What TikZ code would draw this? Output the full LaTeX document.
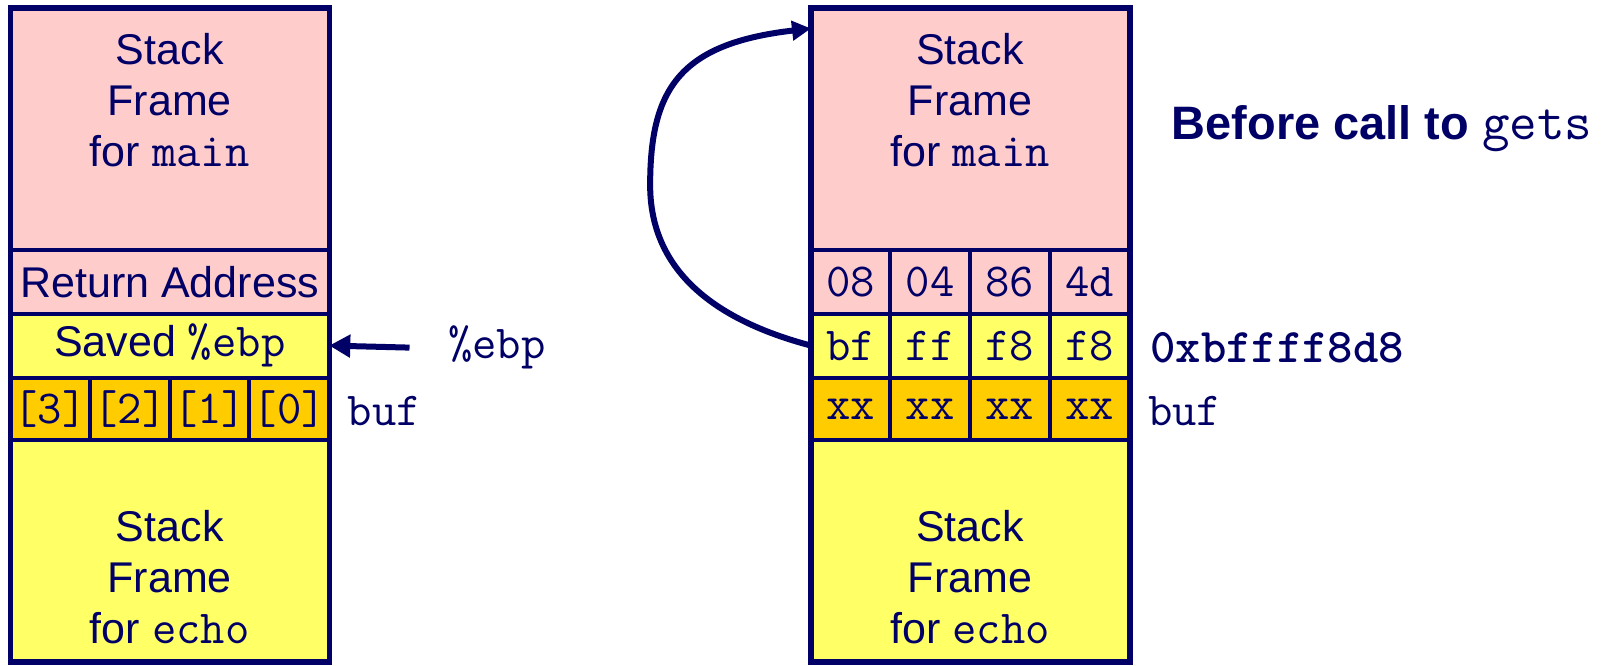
\documentclass[tikz,border=0pt]{standalone}
\usepackage{fontspec}
\setmainfont{Liberation Sans}
\usetikzlibrary{arrows.meta}
\definecolor{navy}{RGB}{0,0,102}
\definecolor{pinkc}{RGB}{255,204,204}
\definecolor{yellc}{RGB}{255,255,102}
\definecolor{orac}{RGB}{255,204,0}
\newcommand{\mono}{\ttfamily\fontsize{46}{49}\selectfont}
\begin{document}
\begin{tikzpicture}[x=1pt,y=1pt,scale=1.0287,transform shape,
  every node/.style={text=navy,font=\fontsize{41.8}{50}\selectfont},
  cellbox/.style={draw=navy,line width=4pt,inner sep=0pt,outer sep=0pt,anchor=south west},
  txt/.style={align=center,inner sep=0pt},
  monotxt/.style={font=\mono,inner sep=0pt},
  conn/.style={draw=navy,line width=6pt,-{Triangle[length=21pt,width=22pt]}}]
\useasboundingbox (0,0) rectangle (1568,647.4);
% ---- left stack ----
\node[cellbox,fill=pinkc,minimum width=310,minimum height=235] (lmain) at (10,404.4) {};
\node[cellbox,fill=pinkc,minimum width=310,minimum height=62] (lret) at (10,342.4) {Return Address};
\node[cellbox,fill=yellc,minimum width=310,minimum height=62] (lsav) at (10,280.4) {Saved {\mono\%ebp}};
\foreach \i/\t in {0/3,1/2,2/1,3/0}{
  \node[cellbox,fill=orac,minimum width=77.5,minimum height=61,font=\mono] (lb\i) at (10+77.5*\i,219.4) {[\t]};
}
\node[cellbox,fill=yellc,minimum width=310,minimum height=215.4] (lecho) at (10,4) {};
\draw[navy,line width=5.5pt] (lmain.north west) rectangle (lecho.south east);
\node[txt] (lmaintxt) at (165,550) {Stack\\Frame\\for {\mono main}};
\node[txt] (lechotxt) at (165,86.4) {Stack\\Frame\\for {\mono echo}};
% ---- right stack ----
\node[cellbox,fill=pinkc,minimum width=310,minimum height=235] (rmain) at (788,404.4) {};
\foreach \i/\t in {0/08,1/04,2/86,3/4d}{
  \node[cellbox,fill=pinkc,minimum width=77.5,minimum height=62,font=\mono] (ra\i) at (788+77.5*\i,342.4) {\t};
}
\foreach \i/\t in {0/bf,1/ff,2/f8,3/f8}{
  \node[cellbox,fill=yellc,minimum width=77.5,minimum height=62,font=\mono] (rs\i) at (788+77.5*\i,280.4) {\t};
}
\foreach \i in {0,1,2,3}{
  \node[cellbox,fill=orac,minimum width=77.5,minimum height=61,font=\mono] (rb\i) at (788+77.5*\i,219.4) {xx};
}
\node[cellbox,fill=yellc,minimum width=310,minimum height=215.4] (recho) at (788,4) {};
\draw[navy,line width=5.5pt] (rmain.north west) rectangle (recho.south east);
\node[txt] (rmaintxt) at (943,550) {Stack\\Frame\\for {\mono main}};
\node[txt] (rechotxt) at (943,86.4) {Stack\\Frame\\for {\mono echo}};
% ---- labels ----
\node[monotxt] (ebplab) at (483,309.4) {\%ebp};
\node[monotxt,anchor=west] (lbuflab) at (338,247.4) {buf};
\node[monotxt,anchor=west,font=\ttfamily\bfseries\fontsize{47}{49}\selectfont] (addr) at (1118,309.4) {0xbffff8d8};
\node[monotxt,anchor=west] (rbuflab) at (1116,247.4) {buf};
\node[inner sep=0pt,anchor=west,font=\bfseries\fontsize{45.6}{50}\selectfont] (title) at (1139,522.4) {Before call to {\ttfamily\mdseries\fontsize{52}{50}\selectfont gets}};
% ---- connectors ----
\coordinate (ebpfrom) at (398,309.4);
\draw[conn] (ebpfrom) -- (lsav.east);
\coordinate (rtarget) at ([yshift=-20pt]rmain.north west);
\draw[conn,-{Triangle[length=19pt,width=19pt]}] (rs0.west) .. controls (690,337.4) and (632,387.4) .. (632,467.4)
   .. controls (632,560) and (660,605) .. (rtarget);
\end{tikzpicture}
\end{document}
